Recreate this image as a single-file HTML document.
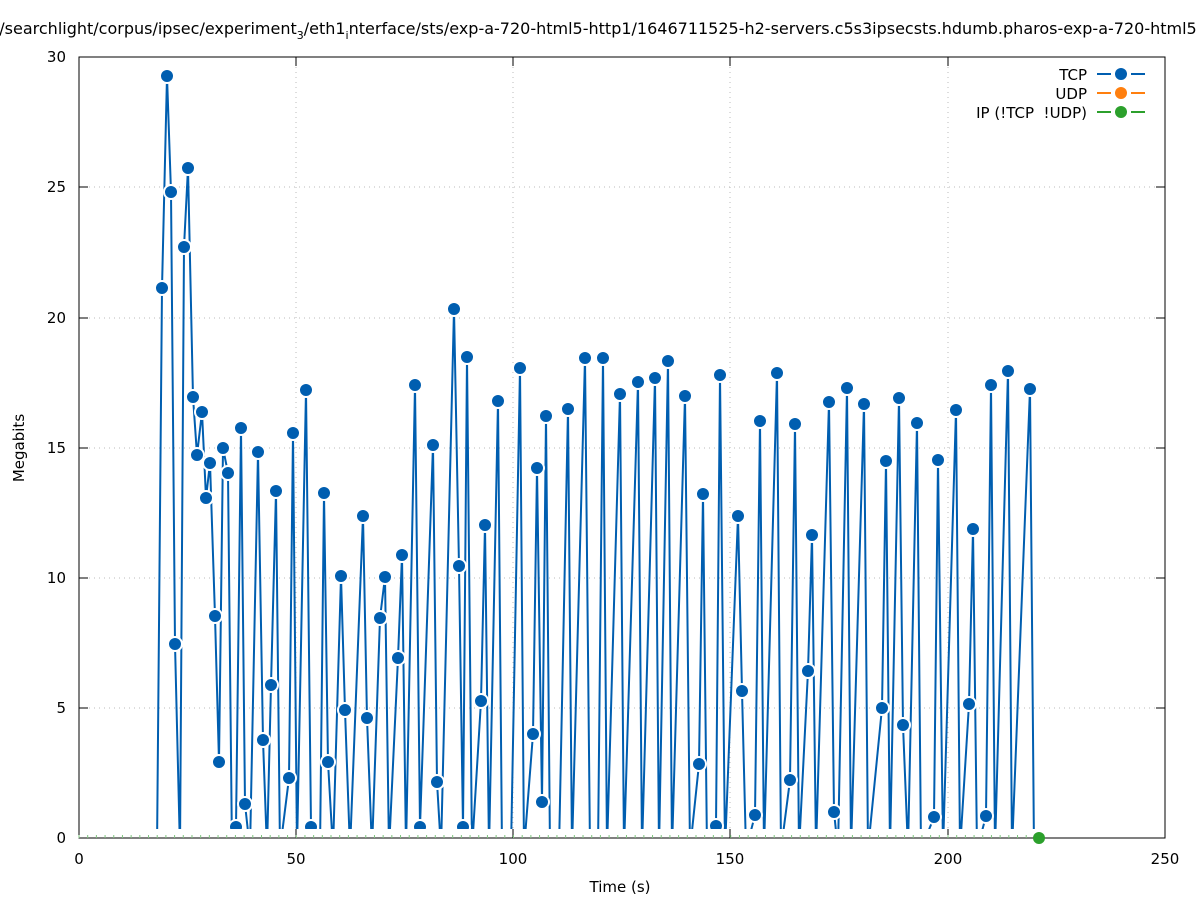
<!DOCTYPE html>
<html><head><style>body{margin:0;background:#fff}svg{display:block}text{font-family:"DejaVu Sans","Liberation Sans",sans-serif;font-size:15px;fill:#000}</style></head><body>
<svg width="1197" height="900" xmlns="http://www.w3.org/2000/svg">
<defs><clipPath id="c"><rect x="79" y="40" width="1086" height="789"/></clipPath></defs>
<text x="598" y="34" text-anchor="middle" style="font-size:16px">/searchlight/corpus/ipsec/experiment<tspan font-size="11" dy="5">3</tspan><tspan dy="-5">/eth1</tspan><tspan font-size="11" dy="5">i</tspan><tspan dy="-5">nterface/sts/exp-a-720-html5-http1/1646711525-h2-servers.c5s3ipsecsts.hdumb.pharos-exp-a-720-html5</tspan></text>
<g stroke="#bbb" stroke-dasharray="1,4" stroke-width="1">
<line x1="79" x2="1165" y1="708" y2="708"/><line x1="79" x2="1165" y1="578" y2="578"/><line x1="79" x2="1165" y1="448" y2="448"/><line x1="79" x2="1165" y1="318" y2="318"/><line x1="79" x2="1165" y1="187" y2="187"/><line x1="79" x2="1165" y1="57" y2="57"/>
<line x1="296" x2="296" y1="57" y2="838"/><line x1="513" x2="513" y1="57" y2="838"/><line x1="730" x2="730" y1="57" y2="838"/><line x1="948" x2="948" y1="57" y2="838"/>
</g>
<rect x="79" y="57" width="1086" height="781" fill="none" stroke="#000"/>
<g stroke="#000">
<line x1="79" x2="88" y1="708" y2="708"/><line x1="79" x2="88" y1="578" y2="578"/><line x1="79" x2="88" y1="448" y2="448"/><line x1="79" x2="88" y1="318" y2="318"/><line x1="79" x2="88" y1="187" y2="187"/>
<line x1="1156" x2="1165" y1="708" y2="708"/><line x1="1156" x2="1165" y1="578" y2="578"/><line x1="1156" x2="1165" y1="448" y2="448"/><line x1="1156" x2="1165" y1="318" y2="318"/><line x1="1156" x2="1165" y1="187" y2="187"/>
<line x1="296" x2="296" y1="838" y2="829"/><line x1="513" x2="513" y1="838" y2="829"/><line x1="730" x2="730" y1="838" y2="829"/><line x1="948" x2="948" y1="838" y2="829"/>
<line x1="296" x2="296" y1="57" y2="66"/><line x1="513" x2="513" y1="57" y2="66"/><line x1="730" x2="730" y1="57" y2="66"/><line x1="948" x2="948" y1="57" y2="66"/>
</g>
<g text-anchor="end"><text x="66" y="843">0</text><text x="66" y="713">5</text><text x="66" y="583">10</text><text x="66" y="453">15</text><text x="66" y="323">20</text><text x="66" y="192">25</text><text x="66" y="62">30</text></g>
<g text-anchor="middle"><text x="79" y="864">0</text><text x="296" y="864">50</text><text x="513" y="864">100</text><text x="730" y="864">150</text><text x="948" y="864">200</text><text x="1165" y="864">250</text>
<text x="620" y="892">Time (s)</text><text transform="translate(24,448) rotate(-90)">Megabits</text></g>
<g id="gr" stroke="#7fc47f" stroke-width="1"></g>
<g id="tcp" clip-path="url(#c)"></g>
<circle cx="1039" cy="838" r="6" fill="#2ca02c"/>
<g text-anchor="end"><text x="1087" y="80">TCP</text><text x="1087" y="99">UDP</text><text x="1087" y="118" xml:space="preserve">IP (!TCP  !UDP)</text></g>
<g stroke-width="2">
<path d="M1097 74H1111M1131 74H1145" stroke="#005eb0"/>
<path d="M1097 93H1111M1131 93H1145" stroke="#ff7f0e"/>
<path d="M1097 112H1111M1131 112H1145" stroke="#2ca02c"/></g>
<circle cx="1121" cy="74" r="6" fill="#005eb0"/><circle cx="1121" cy="93" r="6" fill="#ff7f0e"/><circle cx="1121" cy="112" r="6" fill="#2ca02c"/>
</svg>
<script>
var ns="http://www.w3.org/2000/svg";
var gr=document.getElementById('gr');
for(var x=79;x<1037;x+=8.69){var l=document.createElementNS(ns,'line');l.setAttribute('x1',x);l.setAttribute('x2',x);l.setAttribute('y1',835);l.setAttribute('y2',838);gr.appendChild(l);}
var p=[157,828,162,288,167,76,171,192,175,644,180,828,184,247,188,168,193,397,197,455,202,412,206,498,210,463,215,616,219,762,223,448,228,473,232,828,236,827,241,428,245,804,250,828,258,452,263,740,267,828,271,685,276,491,280,828,289,778,293,433,297,828,306,390,311,827,320,828,324,493,328,762,333,828,341,576,345,710,350,828,363,516,367,718,372,828,380,618,385,577,389,828,398,658,402,555,406,828,415,385,420,827,433,445,437,782,441,828,454,309,459,566,463,827,467,357,472,828,481,701,485,525,489,828,498,401,502,828,511,828,520,368,524,828,533,734,537,468,542,802,546,416,550,828,559,828,568,409,572,828,585,358,590,828,598,828,603,358,607,828,620,394,624,828,638,382,642,828,655,378,659,828,668,361,672,828,685,396,690,828,699,764,703,494,707,828,716,826,720,375,725,828,738,516,742,691,746,828,755,815,760,421,764,828,777,373,781,828,790,780,795,424,799,828,808,671,812,535,816,828,829,402,834,812,838,828,847,388,851,828,864,404,868,828,882,708,886,461,890,828,899,398,903,725,908,828,917,423,921,828,934,817,938,460,943,828,956,410,960,828,969,704,973,529,977,828,986,816,991,385,995,828,1008,371,1012,828,1030,389,1034,828,1040,850];
var g=document.getElementById('tcp');var d='';
for(var i=0;i<p.length;i+=2){d+=(i?'L':'M')+p[i]+' '+(p[i+1]>=828?850:p[i+1]);}
var pa=document.createElementNS(ns,'path');pa.setAttribute('d',d);pa.setAttribute('fill','none');pa.setAttribute('stroke','#005eb0');pa.setAttribute('stroke-width','2');g.appendChild(pa);
for(var i=0;i<p.length;i+=2){if(p[i+1]<828){var c=document.createElementNS(ns,'circle');c.setAttribute('cx',p[i]);c.setAttribute('cy',p[i+1]);c.setAttribute('r',7);c.setAttribute('fill','#005eb0');c.setAttribute('stroke','#fff');c.setAttribute('stroke-width','2');g.appendChild(c);}}
</script>
</body></html>
